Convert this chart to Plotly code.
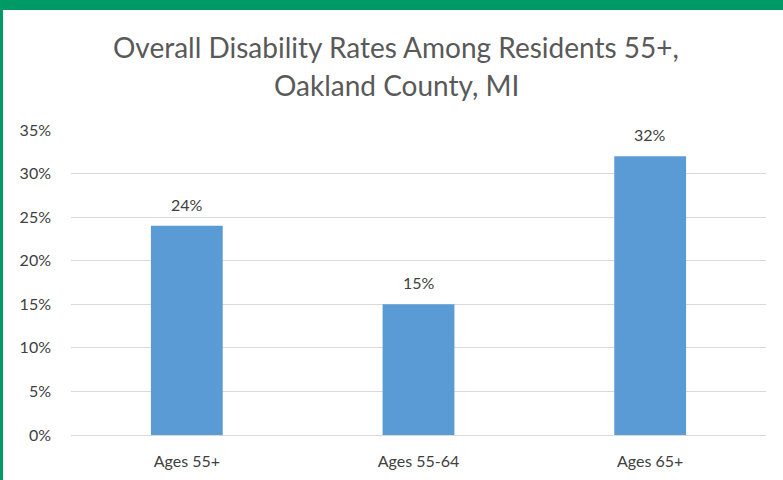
import plotly.graph_objects as go

categories = ["Ages 55+", "Ages 55-64", "Ages 65+"]
values = [0.24, 0.15, 0.32]
tick_vals = [0, 0.05, 0.10, 0.15, 0.20, 0.25, 0.30, 0.35]
tick_text = ["0%", "5%", "10%", "15%", "20%", "25%", "30%", "35%"]
title_lines = ["Overall Disability Rates Among Residents 55+,", "Oakland County, MI"]

W, H = 783, 480
ml, mr, mt, mb = 71, 17, 130, 45
pw, ph = W - ml - mr, H - mt - mb

def px_x(p):
    return (p - ml) / pw

def px_y(p):
    return (H - mb - p) / ph

FONT = "Lato, Carlito, Calibri, sans-serif"
GREEN = "#009A66"
TXT = "#404040"

fig = go.Figure(go.Bar(
    x=categories, y=values,
    marker=dict(color="#5B9BD5", line=dict(width=0)),
    width=0.31,
    hoverinfo="skip",
))

annotations = []
for c, v in zip(categories, values):
    annotations.append(dict(x=c, y=v, xref="x", yref="y", text=f"{round(v*100)}%",
                            showarrow=False, yanchor="bottom", yshift=10,
                            font=dict(size=16, color=TXT, family=FONT)))
for i, (line, cy) in enumerate(zip(title_lines, [47, 85])):
    annotations.append(dict(x=px_x(396), xref="paper", xanchor="center", y=px_y(cy), yref="paper",
                            yanchor="middle", text=line, showarrow=False,
                            font=dict(size=28, color="#595959", family=FONT)))

fig.update_layout(
    width=W, height=H,
    margin=dict(l=ml, r=mr, t=mt, b=mb, autoexpand=False),
    paper_bgcolor="white", plot_bgcolor="white",
    showlegend=False,
    annotations=annotations,
    xaxis=dict(showgrid=False, showline=False, ticks="", ticklabelstandoff=15,
               automargin=False,
               tickfont=dict(size=16, color=TXT, family=FONT)),
    yaxis=dict(range=[0, 0.35], tickvals=tick_vals, ticktext=tick_text,
               showgrid=True, gridcolor="#D9D9D9", gridwidth=1,
               zeroline=True, zerolinecolor="#D9D9D9", zerolinewidth=1,
               showline=False, ticks="", ticklabelstandoff=19, automargin=False,
               tickfont=dict(size=16, color=TXT, family=FONT)),
    shapes=[
        dict(type="rect", xref="paper", yref="paper", layer="above",
             x0=px_x(0), x1=px_x(W + 5), y0=px_y(10), y1=px_y(-5),
             fillcolor=GREEN, line=dict(width=0)),
        dict(type="rect", xref="paper", yref="paper", layer="above",
             x0=px_x(-5), x1=px_x(3), y0=px_y(H + 5), y1=px_y(-5),
             fillcolor=GREEN, line=dict(width=0)),
    ],
)

fig.write_html("out.html")
